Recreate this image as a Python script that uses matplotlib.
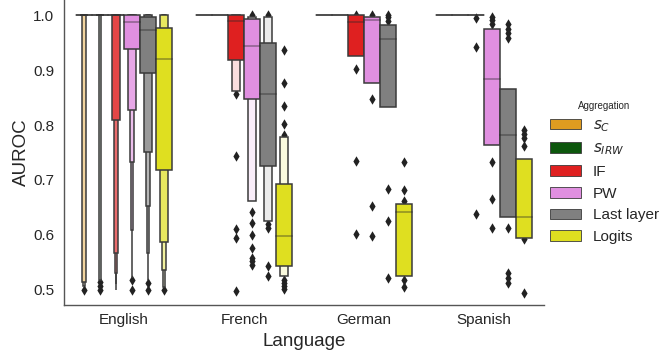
import matplotlib
matplotlib.use('Agg')
import matplotlib.pyplot as plt
from matplotlib.patches import Rectangle, Patch
import numpy as np

plt.rcParams['font.family'] = ['Liberation Sans', 'DejaVu Sans']

languages = ['English', 'French', 'German', 'Spanish']
methods = ['$s_C$', '$s_{IRW}$', 'IF', 'PW', 'Last layer', 'Logits']
colors = ['#DF9C20', '#0D570D', '#DF2020', '#E08FE0', '#808080', '#DFDF20']

# letter-value boxes, innermost first: (low, high), one list per method
english_levels = [
    [(1.0, 1.0), (1.0, 1.0), (0.515, 1.0), (0.508, 1.0)],
    [(1.0, 1.0), (1.0, 1.0), (1.0, 1.0), (0.518, 1.0)],
    [(1.0, 1.0), (0.809, 1.0), (0.568, 1.0), (0.53, 1.0), (0.51, 1.0), (0.5, 1.0)],
    [(0.939, 1.0), (0.828, 1.0), (0.733, 1.0), (0.609, 1.0), (0.521, 1.0)],
    [(0.895, 0.996), (0.751, 1.0), (0.652, 1.0), (0.567, 1.0), (0.518, 1.0)],
    [(0.718, 0.977), (0.588, 1.0), (0.536, 1.0), (0.506, 1.0)],
]
english_medians = [1.0, 1.0, 1.0, 0.987, 0.972, 0.92]
english_outliers = [
    [0.5], [0.515, 0.507, 0.5], [], [0.518, 0.5], [0.512, 0.5], [0.5],
]

french_levels = [
    [(1.0, 1.0)],
    [(1.0, 1.0)],
    [(0.918, 1.0), (0.861, 1.0)],
    [(0.847, 0.993), (0.661, 0.997)],
    [(0.725, 0.95), (0.625, 0.997)],
    [(0.544, 0.692), (0.525, 0.779)],
]
french_medians = [1.0, 1.0, 0.99, 0.944, 0.857, 0.598]
french_outliers = [
    [], [],
    [0.856, 0.744, 0.61, 0.595, 0.499],
    [1.0, 0.641, 0.622, 0.6, 0.577, 0.559, 0.552, 0.545],
    [1.0, 0.62, 0.613, 0.544, 0.525],
    [0.936, 0.877, 0.835, 0.801, 0.782, 0.518, 0.512, 0.507, 0.502],
]

german_levels = [
    [(1.0, 1.0)],
    [(1.0, 1.0)],
    [(0.925, 1.0)],
    [(0.877, 0.996)],
    [(0.832, 0.981)],
    [(0.525, 0.656)],
]
german_medians = [1.0, 1.0, 0.987, 0.991, 0.956, 0.641]
german_outliers = [
    [], [],
    [1.0, 0.902, 0.735, 0.602],
    [1.0, 0.847, 0.653, 0.598],
    [1.0, 0.996, 0.99, 0.684, 0.625, 0.522],
    [0.732, 0.681, 0.662, 0.518, 0.505],
]

spanish_levels = [
    [(1.0, 1.0)],
    [(1.0, 1.0)],
    [(1.0, 1.0)],
    [(0.764, 0.975)],
    [(0.632, 0.865)],
    [(0.594, 0.739)],
]
spanish_medians = [1.0, 1.0, 1.0, 0.883, 0.781, 0.632]
spanish_outliers = [
    [], [],
    [0.994, 0.941, 0.639],
    [0.997, 0.991, 0.984, 0.732, 0.665, 0.612],
    [0.983, 0.974, 0.967, 0.959, 0.612, 0.53, 0.522, 0.513],
    [0.791, 0.783, 0.776, 0.762, 0.592, 0.495],
]

all_levels = [english_levels, french_levels, german_levels, spanish_levels]
all_medians = [english_medians, french_medians, german_medians, spanish_medians]
all_outliers = [english_outliers, french_outliers, german_outliers, spanish_outliers]

edge = '#3a3a3a'
text_col = '#262626'


def mix_white(c, t):
    rgb = np.array(matplotlib.colors.to_rgb(c))
    return tuple(rgb * (1 - t) + t)


fig = plt.figure(figsize=(6.63, 3.53), dpi=100)
ax = fig.add_axes([64/663, 48/353, 480/663, 305/353])

n_hue = len(methods)
slot = 0.8 / n_hue
box_w = slot * 0.98

for li in range(len(languages)):
    for h in range(n_hue):
        x = li + (h - (n_hue - 1) / 2.0) * slot
        levels = all_levels[li][h]
        n = len(levels)
        # outliers go under the boxes
        outs = all_outliers[li][h]
        if outs:
            ax.scatter([x]*len(outs), outs, marker='d', s=28, color='#222222',
                       linewidths=0, zorder=1)
        # outermost box first
        for i in range(n - 1, -1, -1):
            lo, hi = levels[i]
            w = box_w * 0.5**i
            t = 0.85 * i / (n - 1) if n > 1 else 0.0
            ax.add_patch(Rectangle((x - w/2, lo), w, hi - lo,
                                   facecolor=mix_white(colors[h], t),
                                   edgecolor=edge, linewidth=1.1, zorder=2))
        med = all_medians[li][h]
        ax.plot([x - box_w/2, x + box_w/2], [med, med], color='.15',
                alpha=.45, linewidth=1.1, zorder=3)

ax.set_xlim(-0.5, len(languages) - 0.5)
ax.set_ylim(0.4727, 1.0273)
ax.set_xticks(range(len(languages)))
ax.set_xticklabels(languages)
ax.set_yticks([0.5, 0.6, 0.7, 0.8, 0.9, 1.0])
ax.tick_params(length=0, labelsize=11, labelcolor=text_col)
ax.tick_params(axis='y', pad=7)
ax.tick_params(axis='x', pad=6)
ax.set_xlabel('Language', fontsize=13.5, color=text_col, labelpad=4)
ax.set_ylabel('AUROC', fontsize=13.5, color=text_col, labelpad=2.5)
for s in ['top', 'right']:
    ax.spines[s].set_visible(False)
for s in ['left', 'bottom']:
    ax.spines[s].set_color('#555555')
    ax.spines[s].set_linewidth(1.0)

handles = [Patch(facecolor=c, edgecolor=edge, linewidth=0.6) for c in colors]
leg = ax.legend(handles, methods, title='Aggregation', loc='upper left',
                bbox_to_anchor=(1.0, 0.69), borderaxespad=0, frameon=False,
                fontsize=11, title_fontsize=7)
leg.get_title().set_color(text_col)
for t in leg.get_texts():
    t.set_color(text_col)

fig.savefig('out.png', dpi=100)
